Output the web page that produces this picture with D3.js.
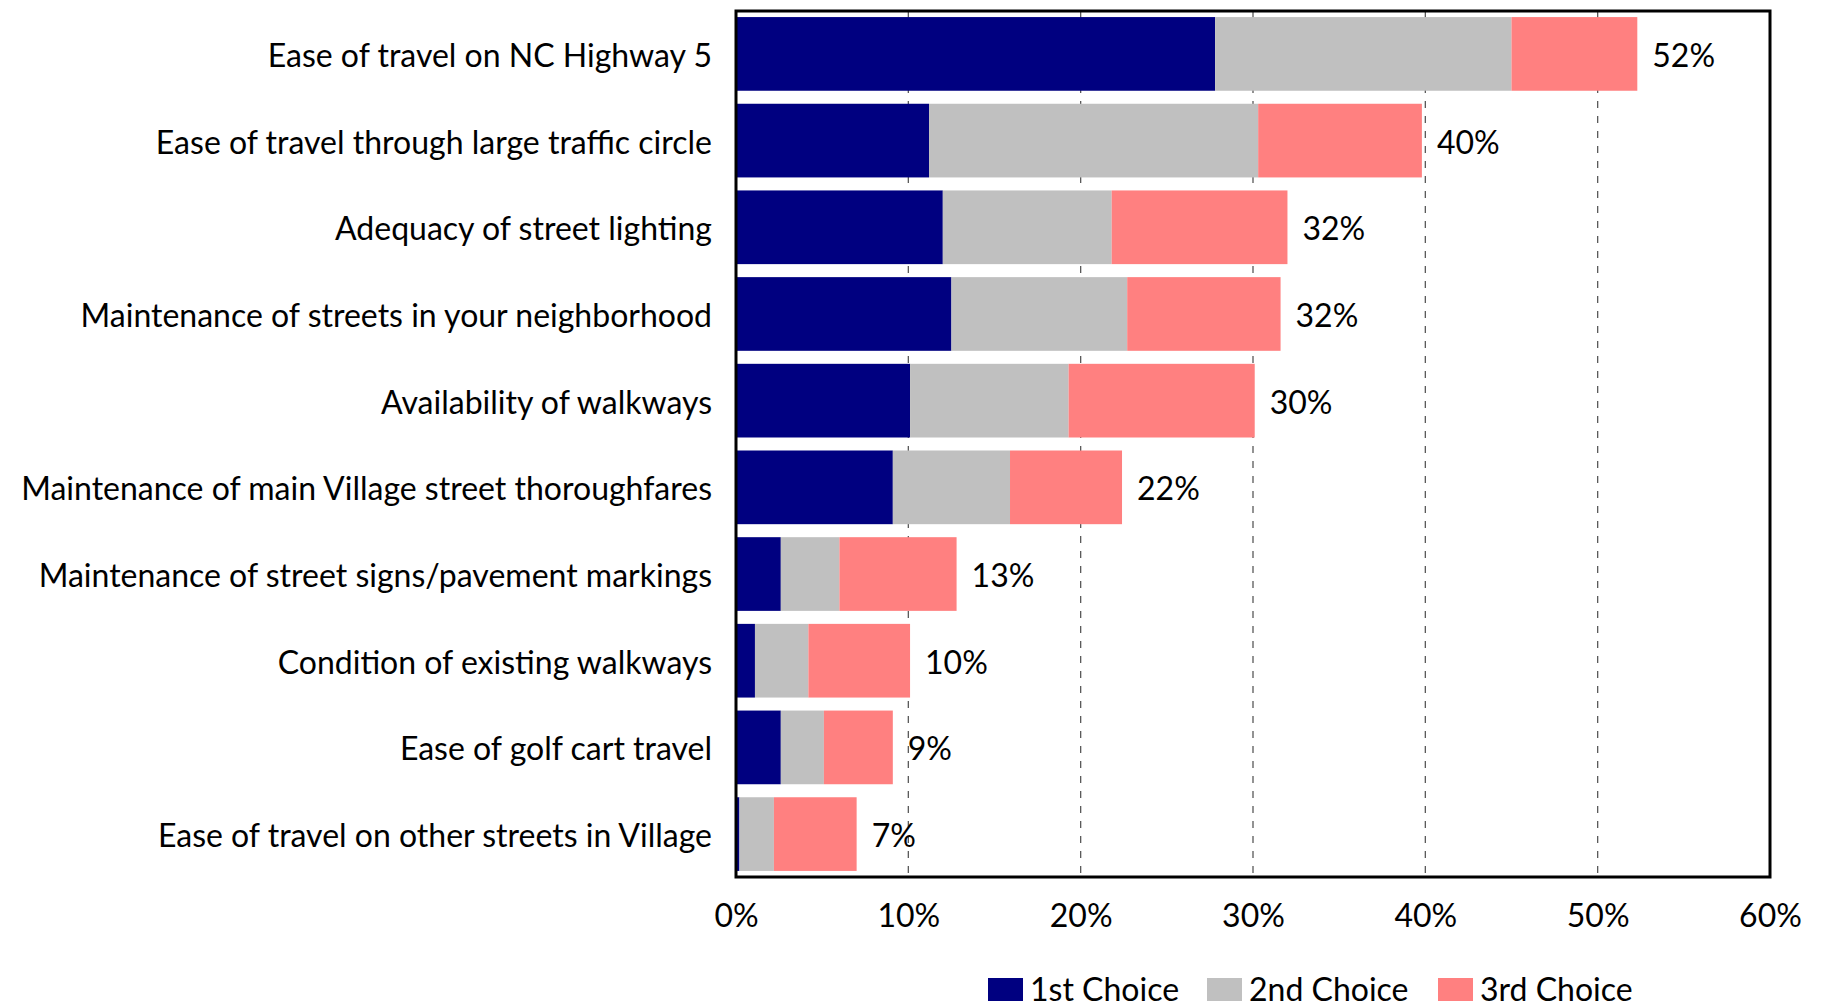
<!DOCTYPE html>
<html>
<head>
<meta charset="utf-8">
<script src="https://cdn.jsdelivr.net/npm/d3@7"></script>
<style>
  html, body { margin: 0; padding: 0; background: #fff; }
  svg text { font-family: Lato, "Noto Sans", sans-serif; fill: #000; }
</style>
</head>
<body>
<svg id="chart" width="1822" height="1007"></svg>
<script>
// Priority ratings for street and travel items (share of respondents, %)
const categories = [
  "Ease of travel on NC Highway 5",
  "Ease of travel through large traffic circle",
  "Adequacy of street lighting",
  "Maintenance of streets in your neighborhood",
  "Availability of walkways",
  "Maintenance of main Village street thoroughfares",
  "Maintenance of street signs/pavement markings",
  "Condition of existing walkways",
  "Ease of golf cart travel",
  "Ease of travel on other streets in Village"
];
const firstChoice  = [27.8, 11.2, 12.0, 12.5, 10.1, 9.1, 2.6, 1.1, 2.6, 0.2];
const secondChoice = [17.2, 19.1,  9.8, 10.2,  9.2, 6.8, 3.4, 3.1, 2.5, 2.0];
const thirdChoice  = [ 7.3,  9.5, 10.2,  8.9, 10.8, 6.5, 6.8, 5.9, 4.0, 4.8];
const seriesNames  = ["1st Choice", "2nd Choice", "3rd Choice"];
const seriesColors = ["#000080", "#C0C0C0", "#FF8080"];
const xTicks = [0, 10, 20, 30, 40, 50, 60];

const svg = d3.select("#chart");
const plot = { left: 736, right: 1770, top: 11, bottom: 877 };
const fontSize = 32;

const x = d3.scaleLinear().domain([0, 60]).range([plot.left, plot.right]);
const y = d3.scaleBand().domain(categories)
  .range([plot.top, plot.bottom]).paddingInner(0.15).paddingOuter(0.07);

const rows = categories.map((c, i) => ({
  category: c,
  "1st Choice": firstChoice[i],
  "2nd Choice": secondChoice[i],
  "3rd Choice": thirdChoice[i]
}));
const stacked = d3.stack().keys(seriesNames)(rows);

// dashed vertical gridlines
svg.append("g").selectAll("line")
  .data(xTicks.filter(t => t > 0 && t < 60))
  .join("line")
  .attr("x1", d => x(d)).attr("x2", d => x(d))
  .attr("y1", plot.top).attr("y2", plot.bottom)
  .attr("stroke", "#595959").attr("stroke-width", 1.3)
  .attr("stroke-dasharray", "7,8");

// stacked bars
svg.append("g").selectAll("g")
  .data(stacked)
  .join("g")
  .attr("fill", (d, i) => seriesColors[i])
  .selectAll("rect")
  .data(d => d)
  .join("rect")
  .attr("x", d => x(d[0]))
  .attr("width", d => x(d[1]) - x(d[0]))
  .attr("y", d => y(d.data.category))
  .attr("height", y.bandwidth());

// plot frame
svg.append("rect")
  .attr("x", plot.left).attr("y", plot.top)
  .attr("width", plot.right - plot.left).attr("height", plot.bottom - plot.top)
  .attr("fill", "none").attr("stroke", "#000").attr("stroke-width", 3);

// category labels
svg.append("g").selectAll("text")
  .data(categories)
  .join("text")
  .attr("x", 712)
  .attr("y", d => y(d) + y.bandwidth() / 2 + 13)
  .attr("text-anchor", "end")
  .attr("font-size", fontSize)
  .text(d => d);

// total labels
const totals = rows.map(r => r["1st Choice"] + r["2nd Choice"] + r["3rd Choice"]);
svg.append("g").selectAll("text")
  .data(rows)
  .join("text")
  .attr("x", (d, i) => x(totals[i]) + 15)
  .attr("y", d => y(d.category) + y.bandwidth() / 2 + 13)
  .attr("font-size", fontSize)
  .text((d, i) => Math.round(totals[i]) + "%");

// x axis labels
const xAxis = svg.append("g")
  .attr("transform", `translate(0,${plot.bottom})`)
  .call(d3.axisBottom(x).tickValues(xTicks).tickFormat(d => d + "%").tickSize(0).tickPadding(0));
xAxis.select(".domain").remove();
xAxis.selectAll("text")
  .attr("font-size", fontSize)
  .attr("font-family", null)
  .attr("dy", null)
  .attr("y", 50);

// legend
const legendX = [988, 1207, 1438];
const legend = svg.append("g").selectAll("g")
  .data(seriesNames)
  .join("g")
  .attr("transform", (d, i) => `translate(${legendX[i]},978)`);
legend.append("rect")
  .attr("width", 35).attr("height", 23)
  .attr("fill", (d, i) => seriesColors[i]);
legend.append("text")
  .attr("x", 42).attr("y", 23)
  .attr("font-size", fontSize)
  .text(d => d);
</script>
</body>
</html>
